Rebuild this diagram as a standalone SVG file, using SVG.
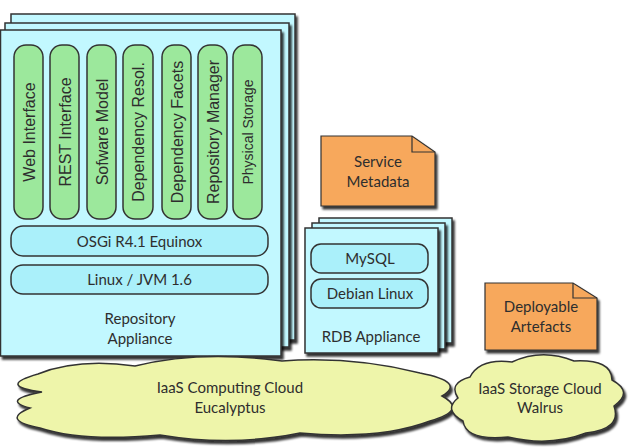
<svg xmlns="http://www.w3.org/2000/svg" width="630" height="448" viewBox="0 0 630 448">
<defs>
<filter id="sh" x="-10%" y="-10%" width="130%" height="130%">
<feDropShadow dx="2" dy="3" stdDeviation="1" flood-color="#000" flood-opacity="0.8"/>
</filter>
<style>
.app{fill:#c2f8ff;stroke:#333;stroke-width:1.5}
.bar{fill:#aaf0fa;stroke:#333;stroke-width:1.5}
.pill{fill:#9ce89c;stroke:#333;stroke-width:1.5}
.note{fill:#f7a85c;stroke:#333;stroke-width:1.2}
.cloud{fill:#eef5aa;stroke:#333;stroke-width:1.5}
.t{font-family:Lato,"Liberation Sans",sans-serif;font-size:15px;fill:#2e2e2e;text-anchor:middle}
.v{font-family:"Liberation Sans",Arial,sans-serif;font-size:16px;fill:#2e2e2e;text-anchor:middle}
</style>
</defs>
<g id="connectors"/>
<g id="repository-appliance">
<rect class="app" x="11" y="14" width="284" height="326" filter="url(#sh)"/>
<rect class="app" x="5" y="23" width="284" height="324" filter="url(#sh)"/>
<rect class="app" x="0.5" y="30" width="280.5" height="326" filter="url(#sh)"/>
<text class="t" x="140" y="324">Repository</text>
<text class="t" x="140" y="344">Appliance</text>
</g>
<g id="web-interface"><rect class="pill" x="14" y="45" width="29" height="174" rx="12"/><text class="v" transform="translate(34.5,132) rotate(-90)">Web Interface</text></g>
<g id="rest-interface"><rect class="pill" x="50" y="45" width="29" height="174" rx="12"/><text class="v" transform="translate(70.5,132) rotate(-90)">REST Interface</text></g>
<g id="software-model"><rect class="pill" x="87" y="45" width="29" height="174" rx="12"/><text class="v" transform="translate(107.5,132) rotate(-90)">Sofware Model</text></g>
<g id="dependency-resol"><rect class="pill" x="123" y="45" width="30" height="174" rx="12"/><text class="v" transform="translate(144,132) rotate(-90)">Dependency Resol.</text></g>
<g id="dependency-facets"><rect class="pill" x="162" y="45" width="29" height="174" rx="12"/><text class="v" transform="translate(182.5,132) rotate(-90)">Dependency Facets</text></g>
<g id="repository-manager"><rect class="pill" x="198" y="45" width="29" height="174" rx="12"/><text class="v" transform="translate(218.5,132) rotate(-90)">Repository Manager</text></g>
<g id="physical-storage"><rect class="pill" x="233" y="45" width="29" height="174" rx="12"/><text class="v" style="font-size:14px" transform="translate(252.5,132) rotate(-90)">Physical Storage</text></g>
<g id="osgi"><rect class="bar" x="11" y="226" width="257" height="30" rx="12"/><text class="t" x="139.5" y="247">OSGi R4.1 Equinox</text></g>
<g id="linux-jvm"><rect class="bar" x="11" y="265" width="257" height="29" rx="12"/><text class="t" x="139.5" y="285">Linux / JVM 1.6</text></g>
<g id="service-metadata">
<path class="note" d="M321,136 H412 L435,152 V206 H321 Z" filter="url(#sh)"/>
<path d="M412,136 V152 H435" fill="none" stroke="#333" stroke-width="1.2"/>
<text class="t" x="378" y="167">Service</text>
<text class="t" x="378" y="187">Metadata</text>
</g>
<g id="rdb-appliance">
<rect class="app" x="319" y="218" width="133" height="125" filter="url(#sh)"/>
<rect class="app" x="312" y="223" width="133" height="126" filter="url(#sh)"/>
<rect class="app" x="305" y="228" width="133" height="125" filter="url(#sh)"/>
<text class="t" x="371" y="342">RDB Appliance</text>
</g>
<g id="mysql"><rect class="bar" x="311" y="244" width="117" height="29" rx="10"/><text class="t" x="370" y="264">MySQL</text></g>
<g id="debian-linux"><rect class="bar" x="311" y="279" width="117" height="29" rx="10"/><text class="t" x="370" y="299">Debian Linux</text></g>
<g id="deployable-artefacts">
<path class="note" d="M485,283 H573 L597,298 V350 H485 Z" filter="url(#sh)"/>
<path d="M573,283 V298 H597" fill="none" stroke="#333" stroke-width="1.2"/>
<text class="t" x="541" y="312">Deployable</text>
<text class="t" x="541" y="332">Artefacts</text>
</g>
<g id="computing-cloud">
<path class="cloud" filter="url(#sh)" d="M42,392 Q-4,386 38,374 Q78,358 135,366 Q200,350 282,361 Q352,356 420,373 Q466,382 442,396 Q468,410 430,421 Q380,440 300,433 Q232,447 160,435 Q82,442 40,428 Q0,420 30,408 Q0,400 42,392 Z"/>
<text class="t" x="230" y="393">IaaS Computing Cloud</text>
<text class="t" x="230" y="413">Eucalyptus</text>
</g>
<g id="storage-cloud">
<path class="cloud" filter="url(#sh)" d="M470,377 Q480,358 512,362 Q542,348 574,361 Q612,359 612,380 Q634,392 614,406 Q622,429 586,433 Q550,447 508,437 Q466,441 463,421 Q443,410 458,398 Q448,383 470,377 Z"/>
<text class="t" x="540" y="394">IaaS Storage Cloud</text>
<text class="t" x="540" y="413">Walrus</text>
</g>
</svg>
